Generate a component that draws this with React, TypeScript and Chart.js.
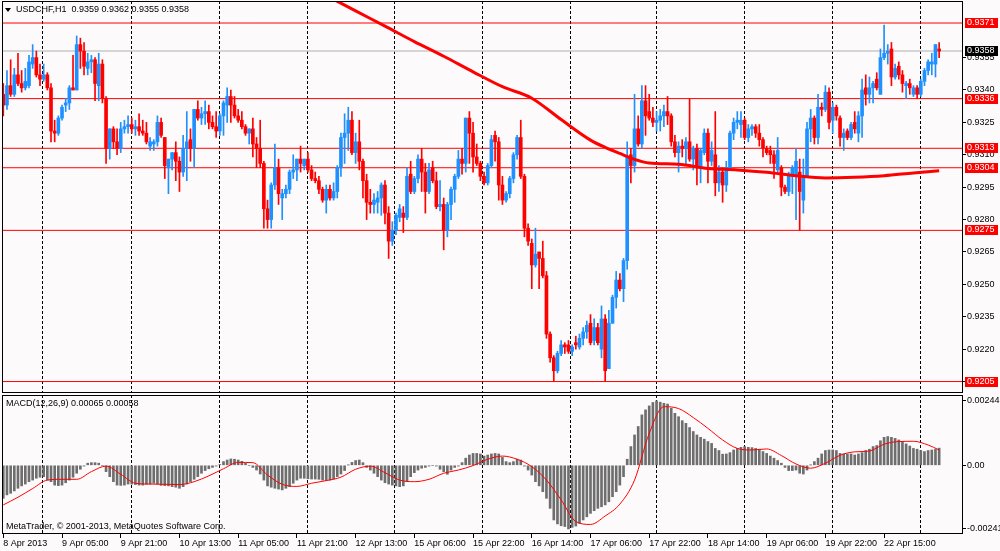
import React, { useEffect, useRef } from 'react';
import { Chart, registerables } from 'chart.js';

Chart.register(...registerables);

const FONT = '"Liberation Sans", Arial, sans-serif';
const BG = '#fcfafa';
const UP = '#1e90ff';
const DOWN = '#ff0000';

const symbolTitle = 'USDCHF,H1';
const lastQuote = ['0.9359', '0.9362', '0.9355', '0.9358'];
const macdTitle = 'MACD(12,26,9) 0.00065 0.00058';
const copyright = 'MetaTrader, \u00a9 2001-2013, MetaQuotes Software Corp.';

// H1 bars, [open, high, low, close] in pips (price * 10000), first bar 8 Apr 13:00
const ohlc: number[][] = [
  [9338,9343,9328,9333],[9333,9349,9331,9342],[9342,9354,9337,9338],[9338,9350,9337,9347],
  [9347,9357,9342,9343],[9343,9349,9339,9341],[9341,9350,9340,9344],[9342,9356,9341,9353],
  [9352,9361,9350,9355],[9355,9358,9346,9347],[9347,9352,9342,9345],[9345,9352,9344,9347],
  [9347,9348,9340,9341],[9341,9343,9316,9321],[9321,9326,9316,9320],[9320,9328,9319,9327],
  // 16
  [9327,9333,9326,9332],[9333,9336,9330,9334],[9334,9342,9331,9341],[9341,9356,9340,9340],
  [9340,9365,9340,9361],[9361,9364,9350,9358],[9358,9362,9347,9351],[9350,9357,9347,9353],
  [9353,9356,9348,9354],[9354,9355,9335,9343],[9342,9357,9335,9352],[9352,9354,9334,9336],
  [9336,9337,9306,9313],[9313,9322,9308,9322],[9322,9323,9313,9316],[9316,9322,9310,9313],
  // 32
  [9313,9325,9311,9322],[9322,9326,9320,9323],[9323,9328,9320,9324],[9324,9327,9320,9322],
  [9322,9326,9319,9323],[9323,9329,9319,9321],[9321,9326,9319,9320],[9320,9325,9315,9316],
  [9314,9318,9312,9316],[9315,9317,9312,9316],[9316,9328,9314,9325],[9325,9327,9318,9319],
  [9318,9318,9299,9305],[9304,9308,9292,9308],[9308,9311,9303,9311],[9311,9316,9298,9307],
  // 48
  [9307,9309,9293,9302],[9302,9319,9300,9313],[9313,9330,9298,9316],[9317,9322,9307,9313],
  [9313,9331,9304,9331],[9331,9335,9326,9327],[9327,9332,9324,9329],[9329,9335,9324,9330],
  [9330,9333,9322,9325],[9325,9328,9322,9323],[9323,9330,9318,9321],[9321,9329,9319,9328],
  [9328,9335,9319,9334],[9333,9341,9325,9337],[9337,9340,9325,9333],[9333,9337,9327,9328],
  // 64
  [9328,9331,9325,9326],[9326,9330,9322,9323],[9323,9324,9319,9320],[9320,9322,9315,9322],
  [9322,9327,9309,9315],[9315,9318,9304,9313],[9313,9326,9304,9306],[9306,9307,9276,9285],
  [9285,9289,9276,9280],[9280,9297,9276,9296],[9296,9315,9294,9304],[9304,9308,9287,9292],
  [9290,9294,9280,9292],[9292,9296,9290,9294],[9294,9303,9292,9302],[9302,9310,9299,9303],
  // 80
  [9303,9308,9298,9308],[9308,9314,9302,9306],[9305,9308,9303,9308],[9308,9311,9302,9303],
  [9303,9305,9298,9299],[9299,9302,9297,9298],[9298,9300,9292,9294],[9294,9295,9288,9289],
  [9289,9296,9283,9294],[9294,9296,9289,9290],[9290,9297,9289,9293],[9293,9305,9290,9304],
  [9304,9320,9300,9318],[9318,9329,9306,9320],[9320,9332,9312,9326],[9326,9330,9310,9311],
  // 96
  [9311,9320,9306,9316],[9316,9326,9303,9307],[9307,9308,9290,9298],[9298,9301,9280,9288],
  [9288,9294,9283,9287],[9287,9292,9283,9289],[9288,9293,9283,9290],[9290,9297,9282,9296],
  [9296,9298,9278,9283],[9283,9286,9262,9270],[9270,9279,9268,9275],[9275,9283,9273,9282],
  [9281,9287,9279,9285],[9283,9286,9274,9281],[9281,9304,9280,9300],[9301,9307,9292,9293],
  // 112
  [9293,9300,9292,9299],[9299,9310,9297,9308],[9308,9313,9293,9302],[9302,9306,9283,9293],
  [9293,9306,9292,9303],[9304,9307,9297,9298],[9298,9302,9285,9286],[9286,9298,9284,9287],
  [9287,9290,9266,9275],[9275,9288,9272,9287],[9287,9295,9280,9294],[9294,9301,9288,9300],
  [9300,9312,9299,9308],[9308,9313,9301,9306],[9306,9327,9302,9327],[9327,9330,9306,9320],
  // 128
  [9320,9325,9302,9309],[9309,9315,9305,9306],[9306,9307,9298,9300],[9300,9302,9296,9297],
  [9297,9306,9296,9305],[9305,9319,9304,9317],[9319,9321,9307,9316],[9316,9318,9289,9296],
  [9296,9300,9287,9289],[9289,9293,9288,9292],[9292,9300,9290,9299],[9299,9311,9297,9310],
  [9310,9319,9308,9318],[9318,9326,9299,9300],[9300,9301,9272,9276],[9276,9278,9268,9270],
  // 144
  [9269,9271,9248,9259],[9259,9276,9258,9264],[9265,9265,9248,9262],[9262,9270,9253,9254],
  [9254,9256,9225,9227],[9227,9228,9214,9216],[9216,9217,9205,9210],[9210,9219,9209,9218],
  [9218,9224,9217,9222],[9222,9223,9218,9221],[9222,9224,9218,9219],[9219,9222,9217,9221],
  [9223,9226,9220,9222],[9221,9227,9220,9225],[9225,9230,9222,9228],[9228,9233,9225,9231],
  // 160
  [9232,9236,9222,9223],[9224,9234,9222,9230],[9230,9232,9222,9223],[9220,9240,9216,9234],
  [9234,9236,9205,9210],[9211,9238,9211,9232],[9232,9245,9232,9244],[9244,9256,9239,9252],
  [9252,9255,9247,9248],[9248,9262,9242,9261],[9261,9316,9257,9309],[9310,9313,9297,9305],
  [9305,9338,9302,9322],[9322,9328,9314,9315],[9315,9342,9313,9335],[9335,9342,9319,9328],
  // 176
  [9330,9338,9326,9327],[9327,9332,9323,9325],[9325,9330,9321,9326],[9326,9331,9321,9328],
  [9328,9333,9323,9330],[9330,9337,9324,9328],[9328,9329,9314,9316],[9316,9319,9309,9311],
  [9311,9316,9302,9314],[9314,9317,9309,9313],[9313,9318,9305,9316],[9316,9336,9307,9308],
  [9308,9314,9303,9313],[9313,9315,9296,9304],[9304,9313,9297,9312],[9311,9322,9310,9320],
  // 192
  [9320,9322,9297,9307],[9307,9316,9305,9312],[9310,9330,9291,9297],[9297,9305,9293,9302],
  [9302,9303,9288,9296],[9296,9307,9293,9304],[9304,9321,9303,9320],[9320,9327,9317,9325],
  [9325,9330,9322,9326],[9324,9330,9318,9326],[9326,9327,9317,9318],[9318,9324,9316,9322],
  [9322,9324,9319,9323],[9323,9324,9318,9320],[9320,9324,9314,9317],[9317,9318,9309,9313],
  // 208
  [9313,9314,9310,9311],[9312,9314,9306,9310],[9310,9312,9299,9306],[9303,9318,9302,9312],
  [9304,9305,9291,9295],[9295,9296,9292,9293],[9293,9302,9291,9301],[9300,9305,9292,9304],
  [9300,9313,9280,9307],[9302,9308,9275,9293],[9289,9308,9283,9300],[9300,9325,9300,9322],
  [9322,9331,9316,9327],[9327,9328,9315,9318],[9318,9338,9315,9332],[9332,9334,9328,9331],
  // 224
  [9331,9342,9330,9339],[9339,9341,9322,9325],[9326,9334,9320,9332],[9332,9333,9326,9328],
  [9327,9328,9314,9318],[9318,9322,9312,9320],[9321,9322,9317,9318],[9318,9325,9317,9324],
  [9325,9330,9320,9322],[9320,9330,9316,9328],[9328,9345,9318,9340],[9341,9347,9333,9338],
  [9338,9346,9334,9341],[9341,9344,9334,9343],[9345,9348,9340,9341],[9338,9359,9338,9355],
  // 240
  [9355,9370,9354,9357],[9357,9361,9352,9358],[9359,9362,9342,9346],[9346,9352,9345,9350],
  [9351,9353,9345,9347],[9347,9349,9339,9343],[9342,9344,9336,9343],[9343,9345,9338,9341],
  [9338,9342,9337,9341],[9341,9342,9336,9338],[9338,9345,9337,9344],[9344,9350,9342,9349],
  [9349,9354,9347,9353],[9352,9357,9347,9353],[9352,9361,9346,9361],[9359,9362,9355,9358],
];

// moving average (thick red), read at these bars, in pips
const maBars = [88, 96, 104, 112, 120, 128, 136, 144, 152, 160, 164, 168, 172, 176, 184, 192, 200, 208, 216, 224, 232, 240, 248, 255];
const maValues = [9383.8, 9376.6, 9369.6, 9362.4, 9355.6, 9348.4, 9341.5, 9336.2, 9326.3, 9316.8, 9313.4, 9310.6, 9307.9, 9306.2, 9305.6, 9303.7, 9303.0, 9301.9, 9300.3, 9299.3, 9299.6, 9300.3, 9301.6, 9302.6];

// MACD main (histogram), in 0.00001
const macdHist = [
  -125,-112,-106,-97,-87,-78,-71,-62,-56,-49,-45,-43,-56,-62,-75,-77,
  -75,-66,-56,-45,-30,-15,-3,8,10,10,8,0,-24,-43,-62,-75,
  -76,-75,-71,-71,-73,-75,-75,-72,-71,-68,-71,-76,-77,-78,-81,-83,
  -87,-81,-71,-62,-53,-43,-30,-20,-13,-8,-3,3,14,20,24,23,
  20,15,8,0,-8,-18,-33,-56,-78,-83,-87,-90,-93,-87,-81,-68,
  -56,-49,-49,-51,-52,-52,-53,-56,-58,-56,-52,-43,-33,-20,1,11,
  18,20,10,-8,-18,-30,-43,-56,-66,-71,-75,-78,-81,-78,-62,-43,
  -28,-18,-11,-8,-3,0,-3,-15,-24,-34,-18,-8,-3,10,27,39,
  45,45,43,35,39,43,45,43,30,14,10,14,23,20,-3,-18,
  -37,-62,-78,-100,-125,-163,-207,-222,-229,-232,-241,-235,-230,-220,-207,-195,
  -182,-172,-163,-157,-150,-138,-119,-100,-75,-43,23,71,115,147,191,210,
  225,238,244,239,235,232,216,197,184,169,159,143,128,115,106,99,
  90,83,64,56,42,43,48,58,64,68,71,68,67,64,61,52,
  45,35,27,18,8,-8,-20,-20,-18,-30,-33,-18,1,14,27,43,
  56,58,58,56,45,43,43,43,39,43,48,56,61,71,75,93,
  106,109,106,102,96,90,81,73,64,61,56,52,56,58,61,65,
];

// MACD signal line, read every 4 bars, in 0.00001
const signalBars = [0,4,8,12,16,20,24,28,32,36,40,44,48,52,56,60,64,68,72,76,80,84,88,92,96,100,104,108,112,116,120,124,128,132,136,140,144,148,152,156,160,164,168,172,176,180,184,188,192,196,200,204,208,212,216,220,224,228,232,236,240,244,248,252,255];
const signalValues = [-150,-121,-88,-56,-53,-53,-24,-3,-34,-68,-71,-72,-73,-62,-40,-13,11,10,-37,-72,-80,-68,-58,-45,-15,-3,-28,-56,-62,-53,-30,-18,-1,23,35,23,-5,-56,-131,-213,-224,-192,-147,-56,121,222,215,181,140,96,64,58,62,37,5,-11,8,38,51,54,80,90,91,77,58];

const priceLevels = [0.9371, 0.9336, 0.9313, 0.9304, 0.9275, 0.9205];
const bidPrice = 0.9358;
const priceTicks = [0.9355, 0.934, 0.9325, 0.931, 0.9295, 0.928, 0.9265, 0.925, 0.9235, 0.922, 0.9205];
const macdTicks = [0.00244, 0, -0.00241];
const macdTickText = ['0.00244', '0.00', '-0.00241'];

const timeTickBars = [0, 16, 32, 48, 64, 80, 96, 112, 128, 144, 160, 176, 192, 208, 224, 240];
const timeTickText = ['8 Apr 2013', '9 Apr 05:00', '9 Apr 21:00', '10 Apr 13:00', '11 Apr 05:00', '11 Apr 21:00', '12 Apr 13:00', '15 Apr 06:00', '15 Apr 22:00', '16 Apr 14:00', '17 Apr 06:00', '17 Apr 22:00', '18 Apr 14:00', '19 Apr 06:00', '19 Apr 22:00', '22 Apr 15:00'];
// dashed vertical grid, in bar units
const gridBars = [10.8, 35, 59, 83, 106.7, 130.5, 154.5, 178, 202, 226, 250];

const X_MIN = -0.354;
const X_MAX = 261.5;
const Y_MIN = 0.91997;
const Y_MAX = 0.93812;
const M_MIN = -0.002602;
const M_MAX = 0.002663;

const framePlugin = {
  id: 'frame',
  afterDraw(chart: any) {
    const { ctx, chartArea: a } = chart;
    ctx.save();
    ctx.strokeStyle = '#000';
    ctx.lineWidth = 1;
    ctx.strokeRect(Math.round(a.left) + 0.5, Math.round(a.top) + 0.5, Math.round(a.right - a.left) - 1, Math.round(a.bottom - a.top) - 1);
    ctx.restore();
  },
};

const mainOverlay = {
  id: 'mainOverlay',
  afterDraw(chart: any) {
    const { ctx } = chart;
    const ys = chart.scales.y;
    ctx.save();
    ctx.fillStyle = '#000';
    ctx.beginPath();
    ctx.moveTo(5, 8);
    ctx.lineTo(11, 8);
    ctx.lineTo(8, 12);
    ctx.closePath();
    ctx.fill();
    ctx.font = `9px ${FONT}`;
    ctx.textBaseline = 'middle';
    ctx.fillText(`${symbolTitle}  ${lastQuote.join(' ')}`, 16, 10);
    const tag = (value: number, bg: string) => {
      const py = Math.round(ys.getPixelForValue(value));
      ctx.fillStyle = bg;
      ctx.fillRect(965, py - 5, 33, 10);
      ctx.fillStyle = '#fff';
      ctx.fillText(value.toFixed(4), 967, py);
    };
    priceLevels.forEach((v) => tag(v, '#ff0000'));
    tag(bidPrice, '#000');
    ctx.restore();
  },
};

const macdOverlay = {
  id: 'macdOverlay',
  afterDraw(chart: any) {
    const { ctx } = chart;
    ctx.save();
    ctx.fillStyle = '#000';
    ctx.font = `9px ${FONT}`;
    ctx.textBaseline = 'middle';
    ctx.fillText(macdTitle, 6, 11);
    ctx.fillText(copyright, 6, 134);
    ctx.restore();
  },
};

const gridAxis = {
  type: 'linear',
  position: 'bottom',
  min: X_MIN,
  max: X_MAX,
  offset: false,
  bounds: 'data',
  ticks: { display: false },
  grid: { color: '#000', lineWidth: 1, drawTicks: false, offset: false },
  border: { display: false, dash: [3, 2] },
  afterBuildTicks: (s: any) => { s.ticks = gridBars.map((v) => ({ value: v })); },
  afterFit: (s: any) => { s.height = 0; s.paddingLeft = 0; s.paddingRight = 0; },
};

const App: React.FC = () => {
  const mainRef = useRef<HTMLCanvasElement>(null);
  const macdRef = useRef<HTMLCanvasElement>(null);

  useEffect(() => {
    if (!mainRef.current || !macdRef.current) return;
    const tickFont = { family: FONT, size: 9 };

    const levelSets = priceLevels.map((lv) => ({
      type: 'line',
      data: [{ x: X_MIN, y: lv }, { x: X_MAX, y: lv }],
      borderColor: '#ff0000',
      borderWidth: 1,
      pointRadius: 0,
      order: 10,
    }));

    const main = new Chart(mainRef.current, {
      type: 'bar',
      data: {
        datasets: [
          ...levelSets,
          {
            type: 'line',
            data: [{ x: X_MIN, y: bidPrice }, { x: X_MAX, y: bidPrice }],
            borderColor: '#c8c8c8',
            borderWidth: 1.5,
            pointRadius: 0,
            order: 9,
          },
          {
            type: 'bar',
            data: ohlc.map((c, i) => ({ x: i, y: [Math.min(...c) / 1e4, Math.max(...c) / 1e4] })),
            backgroundColor: ohlc.map((c) => (c[3] > c[0] ? UP : DOWN)),
            barThickness: 1,
            grouped: false,
            order: 5,
          },
          {
            type: 'bar',
            data: ohlc.map((c, i) => ({ x: i, y: [c[0] / 1e4, c[3] / 1e4] })),
            backgroundColor: ohlc.map((c) => (c[3] > c[0] ? UP : DOWN)),
            barThickness: 3,
            minBarLength: 1,
            grouped: false,
            order: 4,
          },
          {
            type: 'line',
            data: maBars.map((b, i) => ({ x: b, y: maValues[i] / 1e4 })),
            borderColor: '#ff0000',
            borderWidth: 3,
            pointRadius: 0,
            cubicInterpolationMode: 'monotone',
            order: 1,
          },
        ] as any,
      },
      options: {
        animation: false,
        responsive: false,
        events: [],
        layout: { padding: { left: 2, top: 1, right: 0, bottom: 2 } },
        plugins: { legend: { display: false }, tooltip: { enabled: false } },
        scales: {
          x: { type: 'linear', min: X_MIN, max: X_MAX, offset: false, bounds: 'data', display: false, grid: { offset: false } },
          xg: gridAxis,
          y: {
            type: 'linear',
            position: 'right',
            min: Y_MIN,
            max: Y_MAX,
            bounds: 'data',
            beginAtZero: false,
            ticks: { font: tickFont, color: '#000', padding: 1, callback: (v: any) => Number(v).toFixed(4) },
            grid: { drawOnChartArea: false, drawTicks: true, tickLength: 3, color: '#000' },
            border: { display: false },
            afterBuildTicks: (s: any) => { s.ticks = priceTicks.map((v) => ({ value: v })); },
            afterFit: (s: any) => { s.width = 37; s.paddingTop = 0; s.paddingBottom = 0; },
          },
        } as any,
      },
      plugins: [framePlugin, mainOverlay],
    });

    const macd = new Chart(macdRef.current, {
      type: 'bar',
      data: {
        datasets: [
          {
            type: 'bar',
            data: macdHist.map((v, i) => ({ x: i, y: v / 1e5 })),
            backgroundColor: '#6e6e6e',
            barThickness: 2,
            grouped: false,
            order: 2,
          },
          {
            type: 'line',
            data: signalBars.map((b, i) => ({ x: b, y: signalValues[i] / 1e5 })),
            borderColor: '#ff0000',
            borderWidth: 1,
            pointRadius: 0,
            cubicInterpolationMode: 'monotone',
            order: 1,
          },
        ] as any,
      },
      options: {
        animation: false,
        responsive: false,
        events: [],
        layout: { padding: { left: 2, top: 2, right: 0, bottom: 0 } },
        plugins: { legend: { display: false }, tooltip: { enabled: false } },
        scales: {
          x: {
            type: 'linear',
            position: 'bottom',
            min: X_MIN,
            max: X_MAX,
            offset: false,
            bounds: 'data',
            ticks: {
              autoSkip: false,
              maxRotation: 0,
              minRotation: 0,
              align: 'start',
              padding: 0,
              font: tickFont,
              color: '#000',
              callback: (_v: any, i: number) => timeTickText[i] ?? '',
            },
            grid: { drawOnChartArea: false, drawTicks: true, tickLength: 4, color: '#000', offset: false },
            border: { display: false },
            afterBuildTicks: (s: any) => { s.ticks = timeTickBars.map((v) => ({ value: v })); },
            afterFit: (s: any) => { s.height = 17; s.paddingLeft = 0; s.paddingRight = 0; },
          },
          xg: gridAxis,
          y: {
            type: 'linear',
            position: 'right',
            min: M_MIN,
            max: M_MAX,
            bounds: 'data',
            beginAtZero: false,
            ticks: { font: tickFont, color: '#000', padding: 1, callback: (_v: any, i: number) => macdTickText[i] ?? '' },
            grid: { drawOnChartArea: false, drawTicks: true, tickLength: 3, color: '#000' },
            border: { display: false },
            afterBuildTicks: (s: any) => { s.ticks = macdTicks.map((v) => ({ value: v })); },
            afterFit: (s: any) => { s.width = 37; s.paddingTop = 0; s.paddingBottom = 0; },
          },
        } as any,
      },
      plugins: [framePlugin, macdOverlay],
    });

    return () => {
      main.destroy();
      macd.destroy();
    };
  }, []);

  return (
    <div style={{ position: 'absolute', left: 0, top: 0, width: 1000, height: 551, background: BG, overflow: 'hidden' }}>
      <canvas ref={mainRef} width={1000} height={395} style={{ position: 'absolute', left: 0, top: 0 }} />
      <canvas ref={macdRef} width={1000} height={158} style={{ position: 'absolute', left: 0, top: 393 }} />
    </div>
  );
};

export default App;
